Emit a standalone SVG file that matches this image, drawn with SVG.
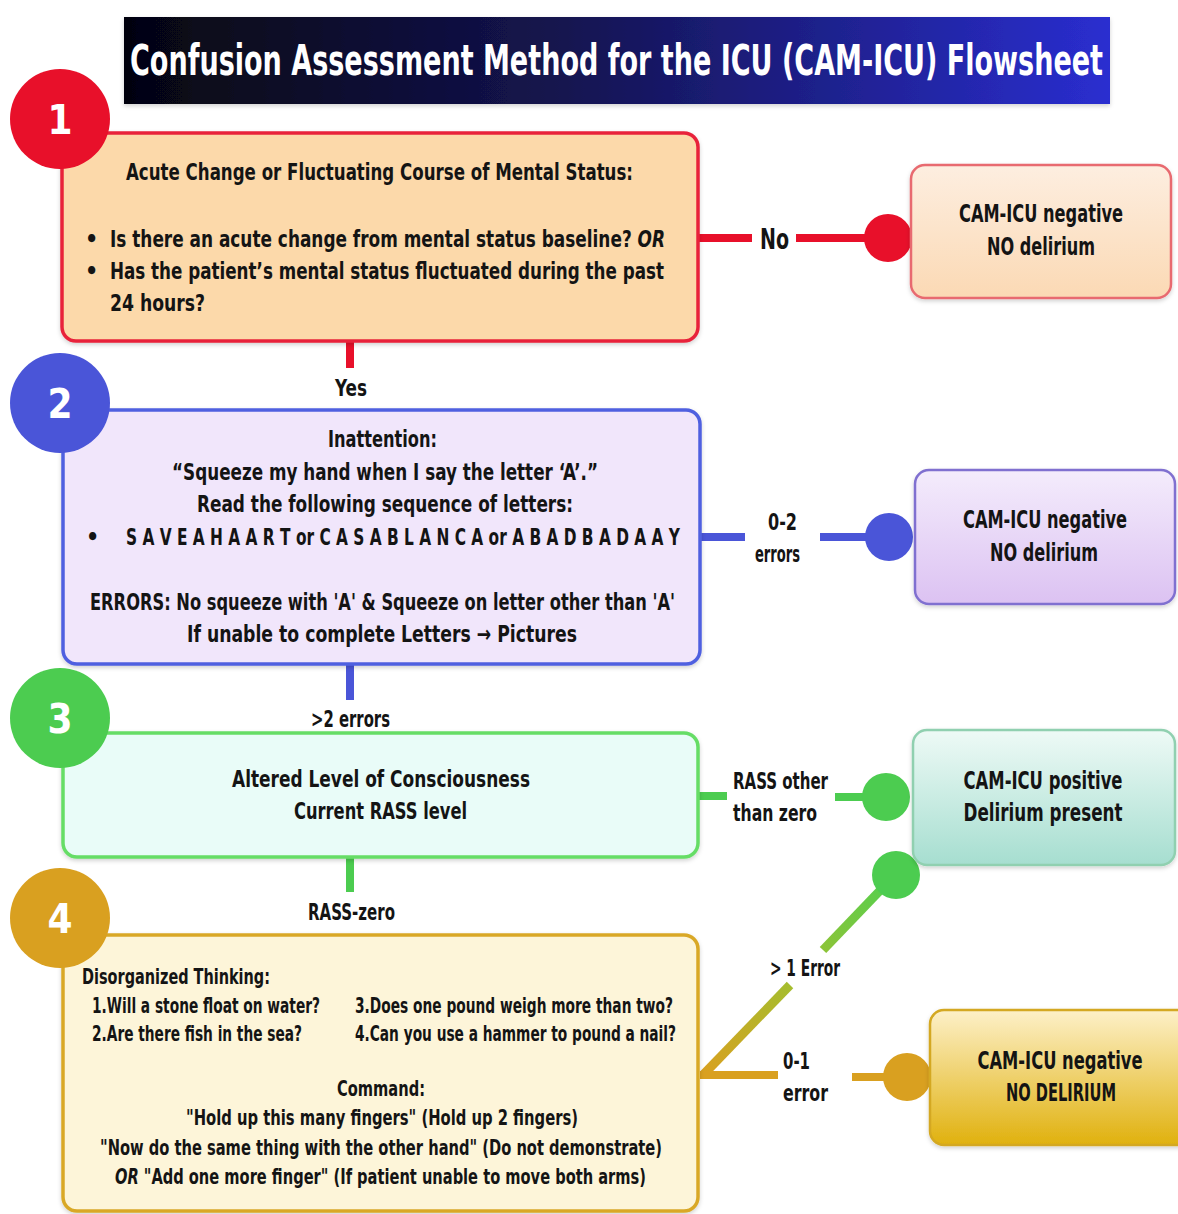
<svg xmlns="http://www.w3.org/2000/svg" width="1178" height="1214" viewBox="0 0 1178 1214">
<defs>
<linearGradient id="gTitle" x1="0" y1="0" x2="1" y2="0"><stop offset="0" stop-color="#050510"/><stop offset="0.45" stop-color="#141450"/><stop offset="1" stop-color="#2a2ed0"/></linearGradient>
<linearGradient id="gR1" x1="0" y1="0" x2="0" y2="1"><stop offset="0" stop-color="#fdeee0"/><stop offset="1" stop-color="#fbd9b4"/></linearGradient>
<linearGradient id="gR2" x1="0" y1="0" x2="0" y2="1"><stop offset="0" stop-color="#f4ecfc"/><stop offset="1" stop-color="#dcc2f2"/></linearGradient>
<linearGradient id="gR3" x1="0" y1="0" x2="0" y2="1"><stop offset="0" stop-color="#eefaf6"/><stop offset="1" stop-color="#a6ded0"/></linearGradient>
<linearGradient id="gR4" x1="0" y1="0" x2="0" y2="1"><stop offset="0" stop-color="#fdf0c8"/><stop offset="1" stop-color="#e0b10e"/></linearGradient>
<linearGradient id="gDiag" gradientUnits="userSpaceOnUse" x1="703" y1="1075" x2="895" y2="875"><stop offset="0" stop-color="#d9a020"/><stop offset="0.5" stop-color="#a0c030"/><stop offset="1" stop-color="#50d050"/></linearGradient>
<filter id="sh" x="-5%" y="-5%" width="110%" height="115%"><feDropShadow dx="0" dy="2" stdDeviation="2" flood-color="#000" flood-opacity="0.18"/></filter>
</defs>
<style>
text{font-family:"Liberation Sans Narrow","DejaVu Sans Condensed","Liberation Sans",sans-serif;font-weight:bold;fill:#141414;}
.t{font-size:23px;}
.s{font-size:21px;}
.lbl{font-size:23px;}
.res{font-size:25px;text-anchor:middle;}
.num{font-size:40px;fill:#fff;text-anchor:middle;}
.box{stroke-width:3.5;}
.con{fill:none;stroke-width:8;}
</style>
<rect width="1178" height="1214" fill="#ffffff"/>

<g id="title">
<rect x="124" y="17" width="986" height="87" fill="url(#gTitle)" filter="url(#sh)"/>
<text x="130" y="75" textLength="973" lengthAdjust="spacingAndGlyphs" style="font-size:42px;fill:#fff">Confusion Assessment Method for the ICU (CAM-ICU) Flowsheet</text>
</g>

<g id="connectors">
<line class="con" x1="698" y1="238" x2="752" y2="238" stroke="#e8102a"/>
<line class="con" x1="796" y1="238" x2="872" y2="238" stroke="#e8102a"/>
<circle cx="888" cy="238" r="24" fill="#e8102a"/>
<line class="con" x1="350" y1="341" x2="350" y2="368" stroke="#e8102a"/>

<line class="con" x1="700" y1="537" x2="745" y2="537" stroke="#4a55d8"/>
<line class="con" x1="820" y1="537" x2="875" y2="537" stroke="#4a55d8"/>
<circle cx="889" cy="537" r="24" fill="#4a55d8"/>
<line class="con" x1="350" y1="664" x2="350" y2="700" stroke="#4a55d8"/>

<line class="con" x1="698" y1="796" x2="727" y2="796" stroke="#4ccc50"/>
<line class="con" x1="835" y1="797" x2="872" y2="797" stroke="#4ccc50"/>
<circle cx="886" cy="797" r="24" fill="#4ccc50"/>
<line class="con" x1="350" y1="857" x2="350" y2="892" stroke="#4ccc50"/>

<line x1="703" y1="1075" x2="790" y2="985" stroke="url(#gDiag)" stroke-width="9"/>
<line x1="823" y1="950" x2="893" y2="877" stroke="url(#gDiag)" stroke-width="9"/>
<circle cx="896" cy="875" r="24" fill="#4ccc50"/>
<line class="con" x1="700" y1="1075" x2="778" y2="1075" stroke="#d9a020"/>
<line class="con" x1="852" y1="1077" x2="895" y2="1077" stroke="#d9a020"/>
<circle cx="907" cy="1077" r="24" fill="#d9a020"/>

<text class="lbl" x="760" y="249" textLength="29" lengthAdjust="spacingAndGlyphs" style="font-size:28px">No</text>
<text class="lbl" x="335" y="396" textLength="32" lengthAdjust="spacingAndGlyphs">Yes</text>
<text class="lbl" x="768" y="530" textLength="29" lengthAdjust="spacingAndGlyphs">0-2</text>
<text class="lbl" x="755" y="562" textLength="45" lengthAdjust="spacingAndGlyphs">errors</text>
<text class="lbl" x="311" y="727" textLength="79" lengthAdjust="spacingAndGlyphs">&gt;2 errors</text>
<text class="lbl" x="733" y="789" textLength="95" lengthAdjust="spacingAndGlyphs">RASS other</text>
<text class="lbl" x="733" y="821" textLength="84" lengthAdjust="spacingAndGlyphs">than zero</text>
<text class="lbl" x="308" y="920" textLength="87" lengthAdjust="spacingAndGlyphs">RASS-zero</text>
<text class="lbl" x="770" y="976" textLength="70" lengthAdjust="spacingAndGlyphs">&gt; 1 Error</text>
<text class="lbl" x="783" y="1069" textLength="27" lengthAdjust="spacingAndGlyphs">0-1</text>
<text class="lbl" x="783" y="1101" textLength="45" lengthAdjust="spacingAndGlyphs">error</text>
</g>

<g id="step1">
<rect class="box" x="62" y="133" width="636" height="208" rx="14" fill="#fcd9aa" stroke="#e8243a" filter="url(#sh)"/>
<circle cx="60" cy="119" r="50" fill="#e8102a"/>
<text class="num" x="60" y="134">1</text>
<text class="t" x="126" y="180" textLength="507" lengthAdjust="spacingAndGlyphs">Acute Change or Fluctuating Course of Mental Status:</text>
<text class="t" x="85" y="247">•</text>
<text class="t" x="110" y="247" textLength="555" lengthAdjust="spacingAndGlyphs">Is there an acute change from mental status baseline? <tspan font-style="italic">OR</tspan></text>
<text class="t" x="85" y="279">•</text>
<text class="t" x="110" y="279" textLength="554" lengthAdjust="spacingAndGlyphs">Has the patient’s mental status fluctuated during the past</text>
<text class="t" x="110" y="311" textLength="95" lengthAdjust="spacingAndGlyphs">24 hours?</text>
</g>

<g id="result1">
<rect x="911" y="165" width="260" height="133" rx="14" fill="url(#gR1)" stroke="#e86a70" stroke-width="2.5" filter="url(#sh)"/>
<text class="res" x="1041" y="222" textLength="164" lengthAdjust="spacingAndGlyphs">CAM-ICU negative</text>
<text class="res" x="1041" y="255" textLength="108" lengthAdjust="spacingAndGlyphs">NO delirium</text>
</g>

<g id="step2">
<rect class="box" x="63" y="410" width="637" height="254" rx="14" fill="#f1e6fb" stroke="#5060e0" filter="url(#sh)"/>
<circle cx="60" cy="403" r="50" fill="#4a55d8"/>
<text class="num" x="60" y="418">2</text>
<text class="t" x="328" y="447" textLength="109" lengthAdjust="spacingAndGlyphs">Inattention:</text>
<text class="t" x="172" y="480" textLength="426" lengthAdjust="spacingAndGlyphs">“Squeeze my hand when I say the letter ‘A’.”</text>
<text class="t" x="197" y="512" textLength="376" lengthAdjust="spacingAndGlyphs">Read the following sequence of letters:</text>
<text class="t" x="86" y="545">•</text>
<text class="t" x="126" y="545" textLength="554" lengthAdjust="spacingAndGlyphs">S A V E A H A A R T or C A S A B L A N C A or A B A D B A D A A Y</text>
<text class="t" x="90" y="610" textLength="585" lengthAdjust="spacingAndGlyphs">ERRORS: No squeeze with 'A' &amp; Squeeze on letter other than 'A'</text>
<text class="t" x="187" y="642" textLength="390" lengthAdjust="spacingAndGlyphs">If unable to complete Letters → Pictures</text>
</g>

<g id="result2">
<rect x="915" y="470" width="260" height="134" rx="14" fill="url(#gR2)" stroke="#8070d0" stroke-width="2.5" filter="url(#sh)"/>
<text class="res" x="1045" y="528" textLength="164" lengthAdjust="spacingAndGlyphs">CAM-ICU negative</text>
<text class="res" x="1044" y="561" textLength="108" lengthAdjust="spacingAndGlyphs">NO delirium</text>
</g>

<g id="step3">
<rect class="box" x="63" y="733" width="635" height="124" rx="14" fill="#e9fcf8" stroke="#66dd66" filter="url(#sh)"/>
<circle cx="60" cy="718" r="50" fill="#4ccc50"/>
<text class="num" x="60" y="733">3</text>
<text class="t" x="232" y="787" textLength="298" lengthAdjust="spacingAndGlyphs">Altered Level of Consciousness</text>
<text class="t" x="294" y="819" textLength="173" lengthAdjust="spacingAndGlyphs">Current RASS level</text>
</g>

<g id="result3">
<rect x="913" y="730" width="262" height="135" rx="14" fill="url(#gR3)" stroke="#90d0b0" stroke-width="2.5" filter="url(#sh)"/>
<text class="res" x="1043" y="789" textLength="159" lengthAdjust="spacingAndGlyphs">CAM-ICU positive</text>
<text class="res" x="1043" y="821" textLength="159" lengthAdjust="spacingAndGlyphs">Delirium present</text>
</g>

<g id="step4">
<rect class="box" x="63" y="935" width="635" height="276" rx="14" fill="#fdf5d9" stroke="#d9a828" filter="url(#sh)"/>
<circle cx="60" cy="918" r="50" fill="#d9a020"/>
<text class="num" x="60" y="933">4</text>
<text class="s" x="82" y="984" textLength="188" lengthAdjust="spacingAndGlyphs">Disorganized Thinking:</text>
<text class="s" x="92" y="1013" textLength="228" lengthAdjust="spacingAndGlyphs">1.Will a stone float on water?</text>
<text class="s" x="92" y="1041" textLength="210" lengthAdjust="spacingAndGlyphs">2.Are there fish in the sea?</text>
<text class="s" x="355" y="1013" textLength="318" lengthAdjust="spacingAndGlyphs">3.Does one pound weigh more than two?</text>
<text class="s" x="355" y="1041" textLength="321" lengthAdjust="spacingAndGlyphs">4.Can you use a hammer to pound a nail?</text>
<text class="s" x="337" y="1096" textLength="88" lengthAdjust="spacingAndGlyphs">Command:</text>
<text class="s" x="186" y="1125" textLength="392" lengthAdjust="spacingAndGlyphs">"Hold up this many fingers" (Hold up 2 fingers)</text>
<text class="s" x="100" y="1155" textLength="562" lengthAdjust="spacingAndGlyphs">"Now do the same thing with the other hand" (Do not demonstrate)</text>
<text class="s" x="115" y="1184" textLength="531" lengthAdjust="spacingAndGlyphs"><tspan font-style="italic">OR</tspan> "Add one more finger" (If patient unable to move both arms)</text>
</g>

<g id="result4">
<rect x="930" y="1010" width="262" height="135" rx="14" fill="url(#gR4)" stroke="#d4a820" stroke-width="2.5" filter="url(#sh)"/>
<text class="res" x="1060" y="1069" textLength="165" lengthAdjust="spacingAndGlyphs">CAM-ICU negative</text>
<text class="res" x="1061" y="1101" textLength="110" lengthAdjust="spacingAndGlyphs">NO DELIRIUM</text>
</g>
</svg>
